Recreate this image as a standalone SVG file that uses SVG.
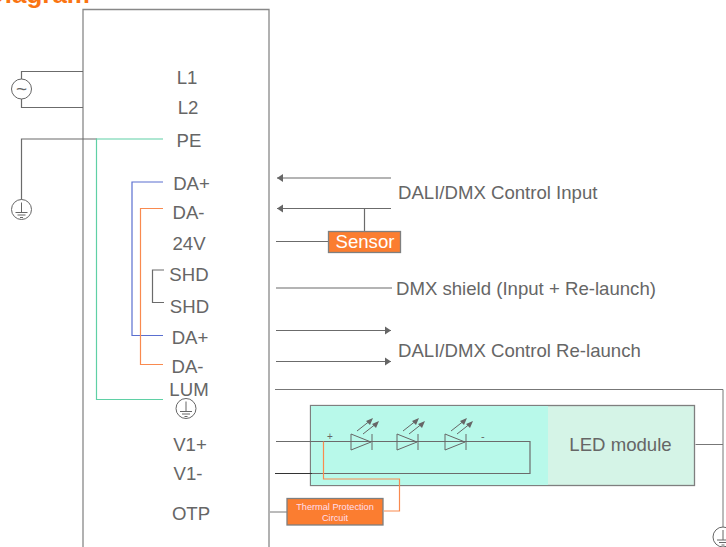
<svg xmlns="http://www.w3.org/2000/svg" width="726" height="547" viewBox="0 0 726 547">
<style>
text{font-family:"Liberation Sans",Arial,sans-serif;fill:#666;font-size:18.600px}
.w{fill:none;stroke:#6b6b6b;stroke-width:1.200}
.g{fill:none;stroke:#777;stroke-width:1}
.m{text-anchor:middle}
</style>
<defs>
<marker id="a" markerWidth="7" markerHeight="10" refX="6" refY="5" orient="auto-start-reverse" markerUnits="userSpaceOnUse"><path d="M0 1L6 5L0 9Z" fill="#666"/></marker>
<g id="gnd"><circle r="10" fill="#fff" stroke="#666"/><path d="M0-7V3M-6 3H6M-4 5.500H4M-1.500 8H1.500" fill="none" stroke="#666" stroke-width="1"/></g>
<g id="led"><path d="M0-7V9L20 1ZM21-7V9M6-10L20-21M12-7L26-18" fill="none" stroke="#666"/><path d="M22-23L15-20L19-16ZM28-20L21-17L25-13Z" fill="#666"/></g>
</defs>
<text x="90" y="3" style="font-size:26px;font-weight:bold;fill:#fa7412;text-anchor:end">Diagram</text>
<g id="box"><path d="M83 547V9.500H269V547" fill="none" stroke="#888" stroke-width="1.300"/></g>
<g id="connectors">
<path class="w" d="M83 71.500H21.500V107.500H83"/>
<path class="w" d="M97 139H21.500V200"/>
<path d="M163 139H96.500V399.500H163" fill="none" stroke="#5fd0a5" stroke-width="1.200"/>
<path d="M163 182H132V335.500H163" fill="none" stroke="#5a6fd0" stroke-width="1.200"/>
<path d="M163 208.500H140.500V364.500H163" fill="none" stroke="#f98a4f" stroke-width="1.200"/>
<path class="w" d="M164 270H152.500V302.500H164"/>
<path class="w" d="M391 178H277" marker-end="url(#a)"/>
<path class="w" d="M391 208.500H277" marker-end="url(#a)"/>
<path class="w" d="M364.500 208.500V231"/>
<path class="w" d="M276 241.500H329"/>
<path class="w" d="M276 288H392"/>
<path class="w" d="M276 330.500H391" marker-end="url(#a)"/>
<path class="w" d="M276 361.500H391" marker-end="url(#a)"/>
<path class="g" d="M275 389.500H723V528"/>
<path class="g" d="M695.500 444.500H723"/>
<path class="g" d="M270 512H287"/>
</g>
<g id="led-module">
<rect x="310.500" y="405.500" width="384" height="80" fill="#d5f4e7" stroke="#7f7f7f" stroke-width="1.300"/>
<rect x="311" y="406" width="237" height="79" fill="#b8f9ea"/>
<text class="m" x="620.500" y="451">LED module</text>
<text x="327" y="440" style="font-size:10px">+</text>
<text x="481" y="440" style="font-size:11px">-</text>
</g>
<g id="led-circuit">
<path class="w" d="M276 441.500H530V473.500H310"/>
<path d="M275 473.500H312" fill="none" stroke="#333" stroke-width="1.200"/>
<use href="#led" x="351" y="441"/>
<use href="#led" x="397" y="441"/>
<use href="#led" x="445" y="441"/>
<path d="M323.500 441.500V479H399.500V511H384" fill="none" stroke="#f98a4f" stroke-width="1.200"/>
</g>
<g id="thermal"><rect x="287" y="498.500" width="96" height="26.500" fill="#fb7d30" stroke="#7f7f7f" stroke-width="1.300"/>
<text class="m" x="335" y="510" style="font-size:9.200px;fill:#fde">Thermal Protection</text>
<text class="m" x="335" y="521" style="font-size:9.200px;fill:#fde">Circuit</text></g>
<g id="sensor"><rect x="328.500" y="231.500" width="72" height="21" fill="#fb7d30" stroke="#7f7f7f" stroke-width="1.300"/>
<text class="m" x="365" y="248" style="fill:#fff">Sensor</text></g>
<g id="ac"><circle cx="21.500" cy="89" r="10" fill="#fff" stroke="#666"/><text class="m" x="21.500" y="95" style="font-size:19px">~</text></g>
<g id="earth-left"><use href="#gnd" x="21.500" y="209.500"/></g>
<g id="earth-pin"><use href="#gnd" x="186" y="408.500"/></g>
<g id="earth-right"><use href="#gnd" x="723" y="537"/></g>
<g id="labels">
<text class="m" x="187" y="84">L1</text>
<text class="m" x="188" y="114">L2</text>
<text class="m" x="189" y="147">PE</text>
<text class="m" x="191.500" y="190">DA+</text>
<text class="m" x="188.500" y="219">DA-</text>
<text class="m" x="189" y="250">24V</text>
<text class="m" x="189" y="281">SHD</text>
<text class="m" x="189.500" y="313">SHD</text>
<text class="m" x="190" y="344">DA+</text>
<text class="m" x="187.500" y="373">DA-</text>
<text class="m" x="189" y="396">LUM</text>
<text class="m" x="190" y="451">V1+</text>
<text class="m" x="188" y="480">V1-</text>
<text class="m" x="191" y="520">OTP</text>
<text x="398" y="199">DALI/DMX Control Input</text>
<text x="396" y="295">DMX shield (Input + Re-launch)</text>
<text x="398" y="357">DALI/DMX Control Re-launch</text>
</g>
</svg>
